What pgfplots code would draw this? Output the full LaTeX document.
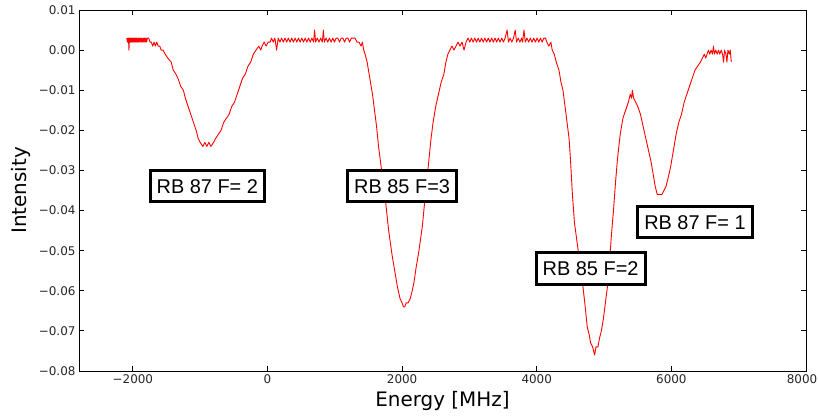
\documentclass[border=0pt]{standalone}
\usepackage{fontspec}
\setmainfont{DejaVu Sans}
\newfontfamily\boxfont{Liberation Sans}
\usepackage{pgfplots}
\pgfplotsset{compat=1.18}
\begin{document}
\begin{tikzpicture}
\begin{axis}[
  at={(0,0)}, anchor=south west,
  scale only axis, width=727bp, height=361bp,
  xmin=-2800, xmax=8000, ymin=-0.08, ymax=0.01,
  axis line style={line width=0.8bp, black},
  tick style={line width=0.8bp, black},
  major tick length=5bp,
  tick align=inside,
  xtick={-2000,0,2000,4000,6000,8000},
  xticklabels={−2000,0,2000,4000,6000,\hspace*{-8bp}8000},
  ytick={-0.08,-0.07,-0.06,-0.05,-0.04,-0.03,-0.02,-0.01,0,0.01},
  yticklabels={−0.08,−0.07,−0.06,−0.05,−0.04,−0.03,−0.02,−0.01,0.00,0.01},
  scaled y ticks=false, scaled x ticks=false,
  tick label style={font=\fontsize{12}{14}\selectfont, text=black!85},
  xlabel={Energy [MHz]}, ylabel={Intensity},
  label style={font=\fontsize{20}{24}\selectfont},
  xlabel style={at={(axis description cs:0.5,-0.083)}, anchor=center},
  ylabel style={at={(axis description cs:-0.080,0.5)}, anchor=center},
  clip=true,
]
\addplot[red, line width=0.9bp, line join=round] coordinates {
(-2090,0.003) (-2080,0.002) (-2072,0.003) (-2065,0.003) (-2058,0.000) (-2050,0.003) (-2042,0.002) (-2035,0.003) (-2027,0.002) (-2020,0.003) (-2012,0.002) (-2005,0.003) (-1997,0.002) (-1990,0.003) (-1982,0.002) (-1975,0.003)
(-1965,0.002) (-1955,0.003) (-1947,0.002) (-1940,0.003) (-1930,0.002) (-1920,0.003) (-1912,0.002) (-1905,0.003) (-1895,0.002) (-1885,0.003) (-1875,0.002) (-1865,0.003) (-1855,0.002) (-1845,0.003) (-1835,0.002) (-1825,0.003) (-1815,0.002) (-1805,0.003) (-1795,0.002) (-1785,0.003)
(-1765,0.003) (-1745,0.002) (-1725,0.002) (-1705,0.001) (-1685,0.002) (-1665,0.001) (-1645,0.002) (-1625,0.001) (-1600,0.001) (-1580,0.000)
(-1550,0.000) (-1520,-0.001) (-1480,-0.002) (-1430,-0.003) (-1400,-0.005) (-1360,-0.006) (-1330,-0.007) (-1290,-0.009) (-1250,-0.010)
(-1220,-0.012) (-1180,-0.014) (-1140,-0.016) (-1100,-0.018) (-1060,-0.020) (-1030,-0.022) (-1000,-0.023) (-960,-0.024) (-930,-0.023)
(-900,-0.024) (-870,-0.023) (-840,-0.024) (-800,-0.023) (-770,-0.022) (-730,-0.021) (-690,-0.020) (-650,-0.018) (-610,-0.017)
(-570,-0.016) (-530,-0.014) (-490,-0.013) (-450,-0.011) (-410,-0.009) (-370,-0.007) (-330,-0.006) (-290,-0.004) (-250,-0.003)
(-210,-0.001) (-170,0.000) (-130,0.001) (-100,0.000) (-80,0.001) (-50,0.002) (-20,0.001) (10,0.002) (40,0.002)
(60,0.003) (85,0.002) (110,0.003) (135,0.000) (160,0.003) (185,0.002) (210,0.003) (235,0.002) (260,0.003) (285,0.002)
(310,0.003) (335,0.002) (360,0.003) (385,0.002) (410,0.003) (435,0.002) (460,0.003) (485,0.002) (510,0.003) (535,0.002)
(560,0.003) (585,0.002) (610,0.003) (635,0.002) (660,0.003) (685,0.002) (700,0.005) (715,0.002) (740,0.003) (765,0.002)
(790,0.003) (815,0.002) (830,0.005) (845,0.002) (870,0.003) (895,0.002) (920,0.003) (945,0.002) (970,0.003) (995,0.002)
(1020,0.003) (1045,0.003) (1070,0.002) (1095,0.003) (1120,0.003) (1145,0.002) (1170,0.003) (1195,0.003) (1220,0.002) (1245,0.003)
(1270,0.003) (1300,0.003) (1330,0.002) (1360,0.002) (1390,0.001) (1410,0.002) (1430,0.000) (1450,-0.001)
(1480,-0.003) (1500,-0.005) (1530,-0.008) (1560,-0.011) (1590,-0.015) (1620,-0.019) (1650,-0.024) (1680,-0.028) (1710,-0.032)
(1750,-0.037) (1800,-0.045) (1850,-0.051) (1890,-0.055) (1930,-0.059) (1970,-0.062) (2000,-0.063) (2020,-0.064) (2040,-0.064)
(2060,-0.063) (2090,-0.063) (2120,-0.062) (2150,-0.060) (2175,-0.058) (2210,-0.054) (2250,-0.050) (2300,-0.044) (2340,-0.037)
(2370,-0.032) (2400,-0.027) (2430,-0.022) (2460,-0.018) (2500,-0.014) (2540,-0.011) (2580,-0.008) (2620,-0.006) (2650,-0.003)
(2680,-0.001) (2710,0.000) (2740,0.001) (2770,0.000) (2800,0.001) (2830,0.002) (2860,0.001) (2890,0.002) (2920,0.000) (2950,0.002)
(2980,0.003) (3005,0.002) (3030,0.003) (3055,0.002) (3080,0.003) (3105,0.002) (3130,0.003) (3155,0.002) (3180,0.003) (3205,0.002)
(3230,0.003) (3255,0.002) (3280,0.003) (3305,0.002) (3330,0.003) (3355,0.002) (3380,0.003) (3405,0.002) (3430,0.003) (3455,0.002)
(3480,0.003) (3505,0.002) (3530,0.003) (3560,0.005) (3580,0.002) (3605,0.003) (3630,0.002) (3655,0.003) (3680,0.005) (3700,0.002)
(3725,0.003) (3750,0.002) (3775,0.003) (3790,0.002) (3810,0.005) (3830,0.002) (3855,0.003) (3880,0.002) (3905,0.003) (3930,0.002)
(3955,0.003) (3980,0.002) (4005,0.003) (4030,0.002) (4055,0.003) (4080,0.002) (4105,0.003) (4130,0.003) (4150,0.002) (4180,0.001)
(4210,0.002) (4230,0.000) (4260,-0.001) (4290,-0.003) (4330,-0.005) (4360,-0.008) (4390,-0.010) (4420,-0.014) (4450,-0.018)
(4480,-0.022) (4500,-0.027) (4530,-0.036) (4560,-0.043) (4600,-0.048) (4640,-0.053) (4680,-0.058) (4720,-0.064) (4750,-0.069)
(4780,-0.071) (4800,-0.073) (4830,-0.074) (4860,-0.076) (4880,-0.074) (4910,-0.074) (4930,-0.072) (4960,-0.070) (4990,-0.067)
(5020,-0.063) (5050,-0.059) (5080,-0.053) (5110,-0.046) (5140,-0.040) (5170,-0.033) (5200,-0.027) (5240,-0.021) (5280,-0.017)
(5320,-0.015) (5360,-0.013) (5390,-0.011) (5410,-0.012) (5420,-0.010) (5440,-0.012) (5470,-0.013) (5500,-0.014) (5540,-0.016)
(5580,-0.019) (5620,-0.022) (5660,-0.025) (5700,-0.028) (5730,-0.031) (5760,-0.034) (5790,-0.036) (5830,-0.036) (5860,-0.036)
(5890,-0.035) (5920,-0.034) (5950,-0.032) (5990,-0.029) (6030,-0.025) (6070,-0.021) (6110,-0.018) (6150,-0.016) (6190,-0.013)
(6230,-0.011) (6270,-0.009) (6310,-0.007) (6350,-0.005) (6390,-0.004) (6430,-0.003) (6460,-0.002) (6490,-0.001) (6510,-0.002)
(6530,-0.001) (6550,0.000) (6570,-0.001) (6590,0.000) (6610,-0.001) (6625,0.001) (6640,-0.001) (6660,0.000) (6680,-0.001)
(6700,0.000) (6720,-0.001) (6740,0.000) (6760,-0.001) (6775,-0.003) (6790,0.000) (6810,-0.001) (6825,-0.003) (6840,0.000)
(6860,-0.001) (6875,0.000) (6890,-0.003)
};
\tikzset{lab/.style={draw=black, line width=3bp, fill=white, inner xsep=6.5bp, inner ysep=8.5bp, text height=14.4bp, text depth=0bp, font=\boxfont\fontsize{20}{24}\selectfont}}
\node[lab] at (axis cs:-894,-0.0339) {RB 87 F= 2};
\node[lab] at (axis cs:2000,-0.0339) {RB 85 F=3};
\node[lab] at (axis cs:4800,-0.0544) {RB 85 F=2};
\node[lab] at (axis cs:6350,-0.0429) {RB 87 F= 1};
\end{axis}
\pgfresetboundingbox
\path[use as bounding box] (-79bp,-45bp) rectangle (739bp,371bp);
\end{tikzpicture}
\end{document}
